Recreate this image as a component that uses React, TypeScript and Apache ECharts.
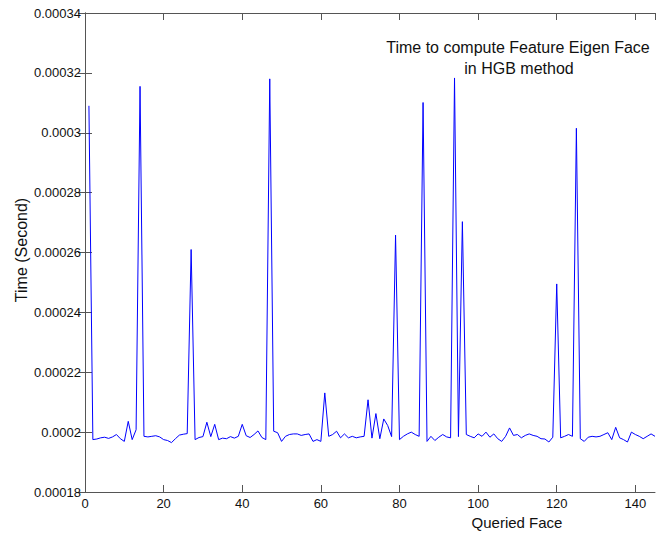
import React, { useEffect, useRef } from "react";
import * as echarts from "echarts";

// Time (seconds) for each queried face, faces 1..145
const times: number[] = [
  0.000309, 0.0001975, 0.0001977, 0.0001981, 0.0001983, 0.0001979, 0.0001984, 0.0001992, 0.0001978, 0.0001969,
  0.0002036, 0.0001975, 0.0002008, 0.0003155, 0.0001986, 0.0001984, 0.0001986, 0.0001988, 0.0001984, 0.0001975,
  0.0001972, 0.0001965, 0.0001978, 0.000199, 0.0001993, 0.0001995, 0.000261, 0.0001975, 0.0001982, 0.0001985,
  0.0002033, 0.0001985, 0.0002026, 0.0001975, 0.000198, 0.0001978, 0.0001985, 0.000198, 0.0001986, 0.0002026,
  0.0001988, 0.0001982, 0.0001992, 0.0002004, 0.0001982, 0.0001975, 0.000318, 0.0002003, 0.0001998, 0.0001969,
  0.0001986, 0.0001992, 0.0001994, 0.0001994, 0.0001989, 0.0001992, 0.0001994, 0.0001969, 0.0001975, 0.0001969,
  0.0002131, 0.0001986, 0.0001992, 0.0002003, 0.0001981, 0.0001994, 0.0001981, 0.0001986, 0.0001981, 0.0001984,
  0.0001986, 0.0002108, 0.000198, 0.0002062, 0.0001978, 0.0002044, 0.0002022, 0.0001985, 0.0002658, 0.0001975,
  0.0001986, 0.0001994, 0.0002, 0.0001992, 0.0001986, 0.0003101, 0.0001969, 0.0001986, 0.0001972, 0.0001983,
  0.0001992, 0.0001984, 0.0001981, 0.0003183, 0.0001985, 0.0002703, 0.0001992, 0.0001986, 0.0001981, 0.0001994,
  0.0001986, 0.0002, 0.0001983, 0.0001994, 0.0001978, 0.0001969, 0.0001986, 0.0002014, 0.0001989, 0.0001992,
  0.0001981, 0.0001989, 0.0001994, 0.0001989, 0.0001986, 0.0001978, 0.0001977, 0.0001967, 0.0001983, 0.0002495,
  0.0001981, 0.0001986, 0.0001992, 0.0001986, 0.0003015, 0.0001978, 0.0001969, 0.0001983, 0.0001986, 0.0001984,
  0.0001986, 0.0001992, 0.0001998, 0.0001975, 0.0002016, 0.0001981, 0.0001975, 0.0001967, 0.0002, 0.0001992,
  0.0001986, 0.0001978, 0.0001986, 0.0001994, 0.0001986,
];

const xMin = 0;
const xMax = 145;
const xInterval = 20;
const yMin = 0.00018;
const yMax = 0.00034;
const yInterval = 0.00002;

const titleLines = ["Time to compute Feature Eigen Face", "in HGB method"];
const xTitle = "Queried Face";
const yTitle = "Time (Second)";

const FONT = "'Liberation Sans', Arial, sans-serif";
const AXIS_COLOR = "#555";
const TEXT_COLOR = "#111";

export default function App() {
  const ref = useRef<HTMLDivElement>(null);

  useEffect(() => {
    if (!ref.current) return;
    const chart = echarts.init(ref.current, undefined, { renderer: "svg" });
    const data = times.map((t, i) => [i + 1, t]);

    const baseAxisLine = { show: true, lineStyle: { color: AXIS_COLOR, width: 1 } };
    const baseTick = { show: true, inside: true, length: 7, lineStyle: { color: AXIS_COLOR, width: 1 } };

    chart.setOption({
      animation: false,
      backgroundColor: "#fff",
      grid: { left: 85, right: 4, top: 13, bottom: 41, containLabel: false },
      xAxis: [
        {
          type: "value",
          min: xMin,
          max: xMax,
          interval: xInterval,
          position: "bottom",
          axisLine: baseAxisLine,
          axisTick: baseTick,
          splitLine: { show: false },
          axisLabel: {
            color: TEXT_COLOR,
            fontFamily: FONT,
            fontSize: 13,
            margin: 5,
            showMaxLabel: false,
          },
        },
        {
          type: "value",
          min: xMin,
          max: xMax,
          interval: xInterval,
          position: "top",
          axisLine: baseAxisLine,
          axisTick: baseTick,
          splitLine: { show: false },
          axisLabel: { show: false },
        },
      ],
      yAxis: [
        {
          type: "value",
          min: yMin,
          max: yMax,
          interval: yInterval,
          position: "left",
          axisLine: baseAxisLine,
          axisTick: baseTick,
          splitLine: { show: false },
          axisLabel: {
            color: TEXT_COLOR,
            fontFamily: FONT,
            fontSize: 13,
            margin: 4,
            formatter: (v: number) => String(Number(v.toFixed(7))),
          },
        },
        {
          type: "value",
          min: yMin,
          max: yMax,
          interval: yInterval,
          position: "right",
          axisLine: baseAxisLine,
          axisTick: baseTick,
          splitLine: { show: false },
          axisLabel: { show: false },
        },
      ],
      series: [
        {
          type: "line",
          data,
          xAxisIndex: 0,
          yAxisIndex: 0,
          showSymbol: false,
          symbol: "none",
          lineStyle: { color: "#0000ff", width: 1 },
          itemStyle: { color: "#0000ff" },
        },
      ],
      graphic: [
        {
          type: "text",
          x: 518,
          y: 47,
          style: {
            text: titleLines[0],
            font: `16px ${FONT}`,
            fill: TEXT_COLOR,
            align: "center",
            verticalAlign: "middle",
          },
        },
        {
          type: "text",
          x: 519,
          y: 68,
          style: {
            text: titleLines[1],
            font: `16px ${FONT}`,
            fill: TEXT_COLOR,
            align: "center",
            verticalAlign: "middle",
          },
        },
        {
          type: "text",
          x: 517,
          y: 522,
          style: {
            text: xTitle,
            font: `15px ${FONT}`,
            fill: TEXT_COLOR,
            align: "center",
            verticalAlign: "middle",
          },
        },
        {
          type: "text",
          x: 21,
          y: 250,
          rotation: Math.PI / 2,
          style: {
            text: yTitle,
            font: `16px ${FONT}`,
            fill: TEXT_COLOR,
            align: "center",
            verticalAlign: "middle",
          },
        },
      ],
    });
    return () => chart.dispose();
  }, []);

  return (
    <div
      ref={ref}
      style={{ position: "fixed", left: 0, top: 0, width: 659, height: 533 }}
    />
  );
}
